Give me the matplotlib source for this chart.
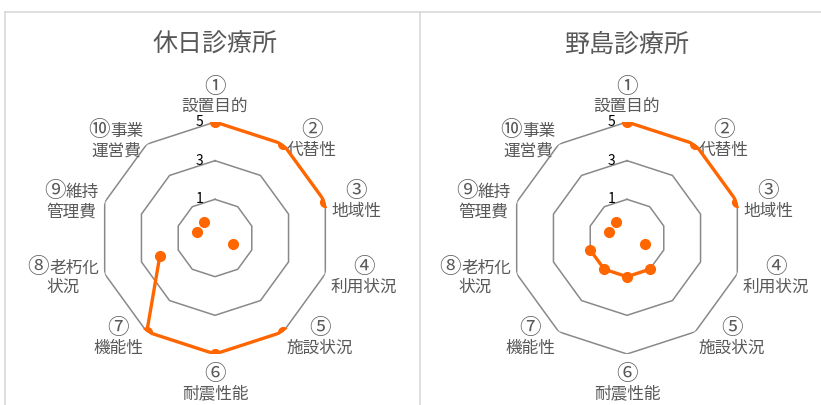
import numpy as np
import matplotlib
matplotlib.use("Agg")
import matplotlib.pyplot as plt
from matplotlib.lines import Line2D
from matplotlib.offsetbox import TextArea, HPacker, VPacker, AnnotationBbox

plt.rcParams['font.family'] = ['Noto Sans CJK JP', 'DejaVu Sans']

# ---- data ----
categories = ["①\n設置目的", "②\n代替性", "③\n地域性", "④\n利用状況", "⑤\n施設状況",
              "⑥\n耐震性能", "⑦\n機能性", "⑧老朽化\n状況", "⑨維持\n管理費", "⑩事業\n運営費"]
titles = ["休日診療所", "野島診療所"]
kyujitsu_values = [5, 5, 5, 0, 5, 5, 5, 2, 0, 0]
nojima_values = [5, 5, 5, 0, 1, 1, 1, 1, 0, 0]
r_ticks = [1, 3, 5]
r_min, r_max = -1, 5

series = [kyujitsu_values, nojima_values]

W, H = 821, 405
fig = plt.figure(figsize=(W / 100, H / 100), dpi=100)
fig.patch.set_facecolor('white')

# panel borders (pixel coordinates)
border_c = '#d9d9d9'
def px_line(xs, ys):
    fig.add_artist(Line2D([x / W for x in xs], [1 - y / H for y in ys],
                          transform=fig.transFigure, color=border_c, lw=1.2))
px_line([5, 835], [11.5, 11.5])
px_line([5, 5], [11.5, 420])
px_line([420, 420], [11.5, 420])

grid_c = '#898989'
orange = '#FF6600'
text_c = '#595959'
CIRCLED = "①②③④⑤⑥⑦⑧⑨⑩"

centers_x = [215, 627]
center_y = 238
R = 116
n = len(categories)
theta = np.arange(n) * 2 * np.pi / n


def make_label(lab):
    rows = []
    for line in lab.split("\n"):
        parts = []
        if line and line[0] in CIRCLED:
            parts.append(TextArea(line[0], textprops=dict(fontsize=15.5, color=text_c)))
            rest = line[1:]
        else:
            rest = line
        if rest:
            parts.append(TextArea(rest, textprops=dict(fontsize=12, color=text_c)))
        rows.append(HPacker(children=parts, align='baseline', pad=0, sep=0))
    return VPacker(children=rows, align='center', pad=0, sep=0.5)


for k in range(2):
    cx = centers_x[k]
    ax = fig.add_axes([(cx - R) / W, (H - center_y - R) / H, 2 * R / W, 2 * R / H],
                      projection='polar')
    ax.set_theta_zero_location('N')
    ax.set_theta_direction(-1)
    ax.set_ylim(r_min, r_max)
    ax.grid(False)
    ax.set_xticks([])
    ax.set_yticks([])
    ax.spines['polar'].set_visible(False)
    ax.patch.set_alpha(0)

    th_closed = np.append(theta, theta[0])
    for t in r_ticks:
        ax.plot(th_closed, [t] * (n + 1), color=grid_c, lw=1.1, zorder=1)
        ax.annotate(str(t), xy=(0, t), xytext=(-8.5, 0), textcoords='offset points',
                    ha='right', va='center', fontsize=10, color='black', zorder=3)

    vals = np.array(series[k], dtype=float)
    line_vals = np.where(vals > 0, vals, np.nan)
    ax.plot(th_closed, np.append(line_vals, line_vals[0]), color=orange, lw=2.4,
            solid_joinstyle='round', solid_capstyle='round', zorder=4)
    ax.plot(theta, vals, linestyle='none', marker='o', markersize=7,
            color=orange, zorder=5)

    # category labels
    for i, lab in enumerate(categories):
        s, c = np.sin(theta[i]), np.cos(theta[i])
        if abs(s) < 0.1:
            bx = 0.5
            if c > 0:
                by = 0.0
                rr = r_min + 122 / R * (r_max - r_min)
            else:
                by = 1.0
                rr = r_min + 125 / R * (r_max - r_min)
        else:
            bx = 0.0 if s > 0 else 1.0
            by = 0.5
            rr = r_min + 122 / R * (r_max - r_min)
        ab = AnnotationBbox(make_label(lab), (theta[i], rr), xycoords='data',
                            box_alignment=(bx, by), frameon=False, pad=0,
                            annotation_clip=False)
        ax.add_artist(ab)

    fig.text(cx / W, 1 - 45 / H, titles[k], ha='center', va='center',
             fontsize=18, color=text_c)

fig.savefig('out.png', dpi=100, facecolor='white')
